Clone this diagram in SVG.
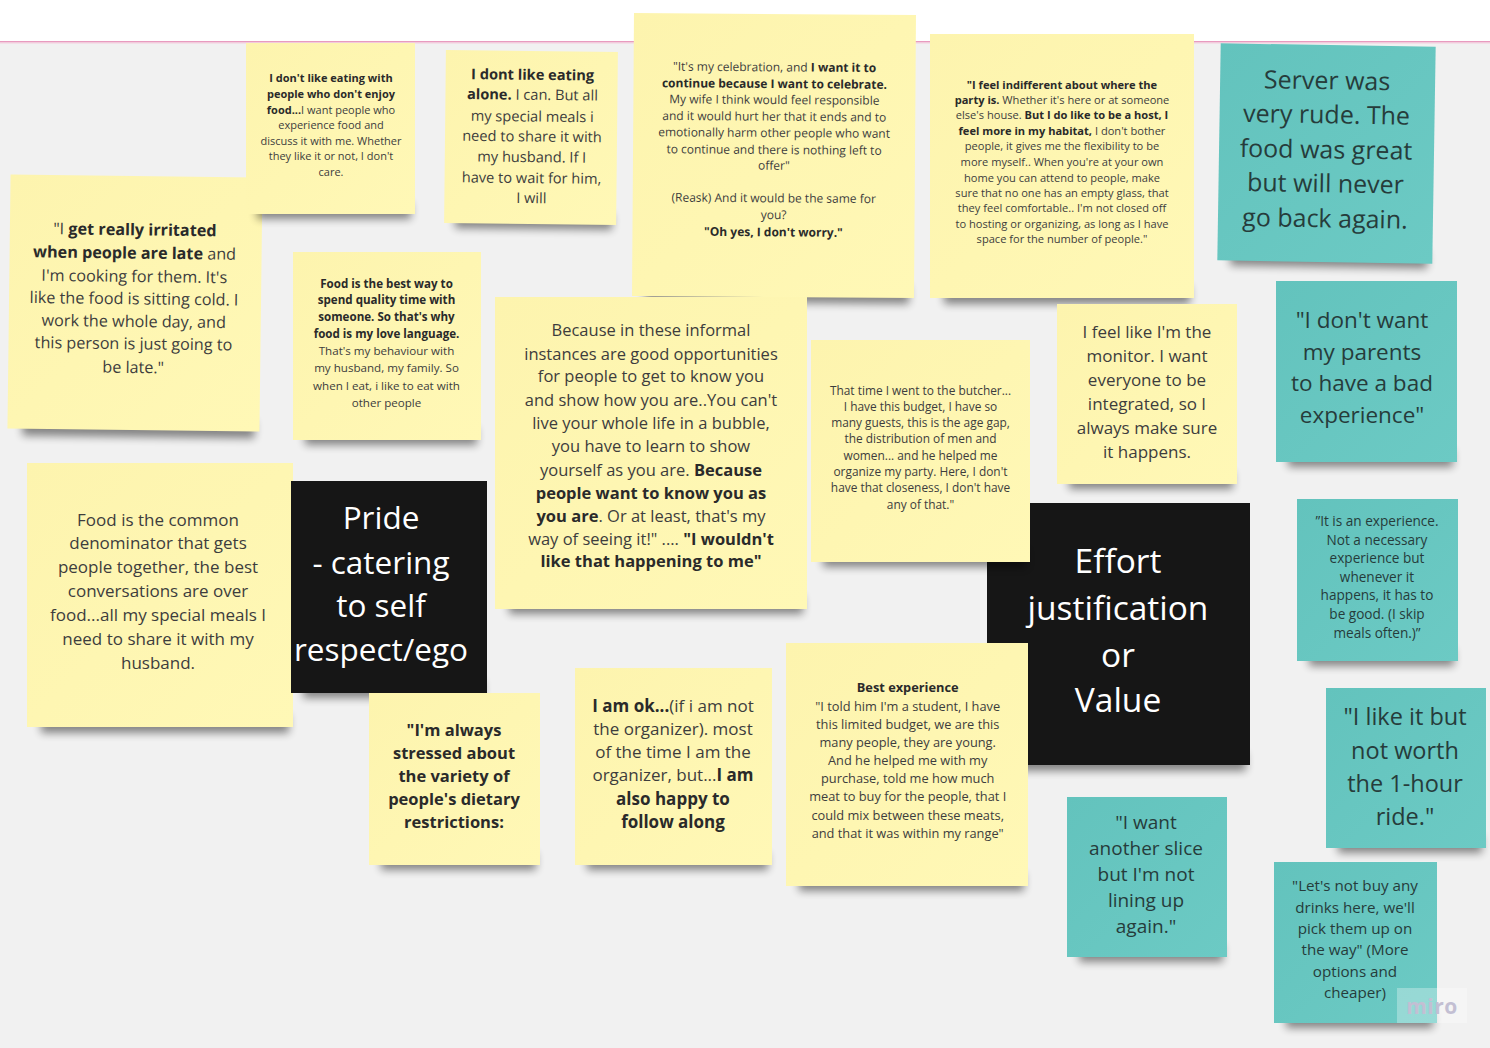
<svg xmlns="http://www.w3.org/2000/svg" width="1490" height="1048" viewBox="0 0 1490 1048">
<defs>
<filter id="blur" x="-20%" y="-100%" width="140%" height="300%"><feGaussianBlur stdDeviation="4"/></filter>
<linearGradient id="yg" x1="0" y1="0" x2="1" y2="1"><stop offset="0" stop-color="#fdf4ae"/><stop offset="1" stop-color="#fff8b6"/></linearGradient>
<linearGradient id="tg" x1="0" y1="0" x2="1" y2="1"><stop offset="0" stop-color="#63c3bd"/><stop offset="1" stop-color="#6ccac4"/></linearGradient>
</defs>
<style>
.y{fill:url(#yg)}
.tl{fill:url(#tg)}
.k{fill:#161616}
.sh{fill:#000;opacity:.45;filter:url(#blur)}
text{font-family:'Open Sans','Noto Sans',sans-serif;text-anchor:middle;fill:#3d3d3d}
.b{font-weight:bold;fill:#2a2a2a}
.tt{fill:#263c3b}
.w{fill:#ffffff}
</style>
<rect x="0" y="0" width="1490" height="1048" fill="#f1f1f1"/>
<rect x="0" y="0" width="1490" height="41" fill="#ffffff"/>
<rect x="0" y="41" width="1490" height="1.5" fill="#e89bbf"/>
<rect x="0" y="42.5" width="1490" height="1" fill="#f6cfe0"/>
<g id="connectors"/>

<g id="n-a" transform="rotate(0.7 135 303)">
<rect class="sh" x="24" y="419" width="232" height="18"/>
<rect class="y" x="9" y="176" width="252" height="254"/>
<text font-size="16.2"><tspan x="134" y="235.3">"I <tspan class="b">get really irritated</tspan></tspan><tspan x="134" y="258.6"><tspan class="b">when people are late</tspan> and</tspan><tspan x="134" y="282">I'm cooking for them. It's</tspan><tspan x="134" y="304.3">like the food is sitting cold. I</tspan><tspan x="134" y="327">work the whole day, and</tspan><tspan x="134" y="349.3">this person is just going to</tspan><tspan x="134" y="373">be late."</tspan></text>
</g>

<g id="n-b">
<rect class="sh" x="257" y="203" width="154" height="16"/>
<rect class="y" x="246" y="43" width="169" height="171"/>
<text font-size="11"><tspan x="331" y="82.3" class="b">I don't like eating with</tspan><tspan x="331" y="97.9" class="b">people who don't enjoy</tspan><tspan x="331" y="113.9"><tspan class="b">food...</tspan>I want people who</tspan><tspan x="331" y="128.9">experience food and</tspan><tspan x="331" y="144.9">discuss it with me. Whether</tspan><tspan x="331" y="159.9">they like it or not, I don't</tspan><tspan x="331" y="175.6">care.</tspan></text>
</g>

<g id="n-c" transform="rotate(0.6 531 138)">
<rect class="sh" x="456" y="213" width="157" height="16"/>
<rect class="y" x="445" y="51" width="172" height="173"/>
<text font-size="14.6"><tspan x="532" y="79.8" class="b">I dont like eating</tspan><tspan x="532" y="99.8"><tspan class="b">alone.</tspan> I can. But all</tspan><tspan x="532" y="121.5">my special meals i</tspan><tspan x="532" y="141.5">need to share it with</tspan><tspan x="532" y="162.1">my husband. If I</tspan><tspan x="532" y="183.1">have to wait for him,</tspan><tspan x="532" y="203.1">I will</tspan></text>
</g>

<g id="n-d" transform="rotate(0.4 774 155)">
<rect class="sh" x="646" y="285" width="264" height="18"/>
<rect class="y" x="633" y="14" width="282" height="283"/>
<text font-size="12"><tspan x="774" y="71.3">"It's my celebration, and <tspan class="b">I want it to</tspan></tspan><tspan x="774" y="88" class="b">continue because I want to celebrate.</tspan><tspan x="774" y="104">My wife I think would feel responsible</tspan><tspan x="774" y="120.7">and it would hurt her that it ends and to</tspan><tspan x="774" y="137">emotionally harm other people who want</tspan><tspan x="774" y="154">to continue and there is nothing left to</tspan><tspan x="774" y="169.7">offer"</tspan><tspan x="774" y="202.3">(Reask) And it would be the same for</tspan><tspan x="774" y="219">you?</tspan><tspan x="774" y="236.3" class="b">"Oh yes, I don't worry."</tspan></text>
</g>

<g id="n-e">
<rect class="sh" x="944" y="286" width="246" height="18"/>
<rect class="y" x="930" y="34" width="264" height="264"/>
<text font-size="11.1"><tspan x="1062" y="89.4" class="b">"I feel indifferent about where the</tspan><tspan x="1062" y="104.4"><tspan class="b">party is.</tspan> Whether it's here or at someone</tspan><tspan x="1062" y="119.4">else's house. <tspan class="b">But I do like to be a host, I</tspan></tspan><tspan x="1062" y="135.4"><tspan class="b">feel more in my habitat,</tspan> I don't bother</tspan><tspan x="1062" y="150.4">people, it gives me the flexibility to be</tspan><tspan x="1062" y="166">more myself.. When you're at your own</tspan><tspan x="1062" y="181.7">home you can attend to people, make</tspan><tspan x="1062" y="197">sure that no one has an empty glass, that</tspan><tspan x="1062" y="212">they feel comfortable.. I'm not closed off</tspan><tspan x="1062" y="227.7">to hosting or organizing, as long as I have</tspan><tspan x="1062" y="242.7">space for the number of people."</tspan></text>
</g>

<g id="n-f" transform="rotate(0.9 1326 153)">
<rect class="sh" x="1232" y="249" width="197" height="18"/>
<rect class="tl" x="1219" y="45" width="215" height="217"/>
<text font-size="25" class="tt"><tspan x="1326" y="89.3">Server was</tspan><tspan x="1326" y="123.3">very rude. The</tspan><tspan x="1326" y="158.3">food was great</tspan><tspan x="1326" y="192.3">but will never</tspan><tspan x="1326" y="227.3">go back again.</tspan></text>
</g>

<g id="n-k">
<rect class="sh" x="1288" y="450" width="165" height="17"/>
<rect class="tl" x="1276" y="281" width="181" height="181"/>
<text font-size="22.5" class="tt"><tspan x="1362" y="328.4">"I don't want</tspan><tspan x="1362" y="360.4">my parents</tspan><tspan x="1362" y="391.4">to have a bad</tspan><tspan x="1362" y="423.4">experience"</tspan></text>
</g>

<g id="n-j">
<rect class="sh" x="1069" y="472" width="164" height="17"/>
<rect class="y" x="1057" y="304" width="180" height="180"/>
<text font-size="17"><tspan x="1147" y="337.6">I feel like I'm the</tspan><tspan x="1147" y="361.6">monitor. I want</tspan><tspan x="1147" y="385.6">everyone to be</tspan><tspan x="1147" y="409.6">integrated, so I</tspan><tspan x="1147" y="433.6">always make sure</tspan><tspan x="1147" y="457.6">it happens.</tspan></text>
</g>

<g id="n-p">
<rect class="sh" x="1001" y="753" width="245" height="18"/>
<rect class="k" x="987" y="503" width="263" height="262"/>
<text font-size="33.5" class="w"><tspan x="1118" y="573">Effort</tspan><tspan x="1118" y="620">justification</tspan><tspan x="1118" y="667">or</tspan><tspan x="1118" y="712">Value</tspan></text>
</g>

<g id="n-i">
<rect class="sh" x="823" y="550" width="203" height="17"/>
<rect class="y" x="811" y="340" width="219" height="222"/>
<text font-size="11.9"><tspan x="920.5" y="394.6">That time I went to the butcher...</tspan><tspan x="920.5" y="410.6">I have this budget, I have so</tspan><tspan x="920.5" y="427.2">many guests, this is the age gap,</tspan><tspan x="920.5" y="443.2">the distribution of men and</tspan><tspan x="920.5" y="459.9">women... and he helped me</tspan><tspan x="920.5" y="475.6">organize my party. Here, I don't</tspan><tspan x="920.5" y="492.2">have that closeness, I don't have</tspan><tspan x="920.5" y="508.9">any of that."</tspan></text>
</g>

<g id="n-q">
<rect class="sh" x="799" y="873" width="225" height="18"/>
<rect class="y" x="786" y="643" width="242" height="243"/>
<text font-size="12.8"><tspan x="907.7" y="691.5" class="b">Best experience</tspan><tspan x="907.7" y="710.5">"I told him I'm a student, I have</tspan><tspan x="907.7" y="728.9">this limited budget, we are this</tspan><tspan x="907.7" y="747.2">many people, they are young.</tspan><tspan x="907.7" y="764.9">And he helped me with my</tspan><tspan x="907.7" y="783.2">purchase, told me how much</tspan><tspan x="907.7" y="801.2">meat to buy for the people, that I</tspan><tspan x="907.7" y="819.5">could mix between these meats,</tspan><tspan x="907.7" y="837.9">and that it was within my range"</tspan></text>
</g>

<g id="n-l">
<rect class="sh" x="41" y="715" width="248" height="18"/>
<rect class="y" x="27" y="463" width="266" height="264"/>
<text font-size="17"><tspan x="158" y="525.6">Food is the common</tspan><tspan x="158" y="548.6">denominator that gets</tspan><tspan x="158" y="572.6">people together, the best</tspan><tspan x="158" y="596.6">conversations are over</tspan><tspan x="158" y="620.6">food...all my special meals I</tspan><tspan x="158" y="644.6">need to share it with my</tspan><tspan x="158" y="668.6">husband.</tspan></text>
</g>

<g id="n-m">
<rect class="sh" x="303" y="681" width="180" height="17"/>
<rect class="k" x="291" y="481" width="196" height="212"/>
<text font-size="31.5" class="w"><tspan x="381" y="529.4">Pride</tspan><tspan x="381" y="574.4">- catering</tspan><tspan x="381" y="617.4">to self</tspan><tspan x="381" y="661.4">respect/ego</tspan></text>
</g>

<g id="n-g">
<rect class="sh" x="305" y="428" width="172" height="17"/>
<rect class="y" x="293" y="252" width="188" height="188"/>
<text font-size="11.6"><tspan x="386.5" y="287.5" class="b">Food is the best way to</tspan><tspan x="386.5" y="304.1" class="b">spend quality time with</tspan><tspan x="386.5" y="320.8" class="b">someone. So that's why</tspan><tspan x="386.5" y="337.5" class="b">food is my love language.</tspan><tspan x="386.5" y="354.8">That's my behaviour with</tspan><tspan x="386.5" y="371.8">my husband, my family. So</tspan><tspan x="386.5" y="389.8">when I eat, i like to eat with</tspan><tspan x="386.5" y="406.8">other people</tspan></text>
</g>

<g id="n-h">
<rect class="sh" x="509" y="596" width="294" height="18"/>
<rect class="y" x="495" y="297" width="312" height="312"/>
<text font-size="16.5"><tspan x="651" y="336.4">Because in these informal</tspan><tspan x="651" y="359.7">instances are good opportunities</tspan><tspan x="651" y="382.4">for people to get to know you</tspan><tspan x="651" y="405.7">and show how you are..You can't</tspan><tspan x="651" y="429.1">live your whole life in a bubble,</tspan><tspan x="651" y="452.4">you have to learn to show</tspan><tspan x="651" y="475.7">yourself as you are. <tspan class="b">Because</tspan></tspan><tspan x="651" y="499.1" class="b">people want to know you as</tspan><tspan x="651" y="522.4"><tspan class="b">you are</tspan>. Or at least, that's my</tspan><tspan x="651" y="545.1">way of seeing it!" .... <tspan class="b">"I wouldn't</tspan></tspan><tspan x="651" y="567.4" class="b">like that happening to me"</tspan></text>
</g>

<g id="n-n">
<rect class="sh" x="381" y="853" width="155" height="17"/>
<rect class="y" x="369" y="693" width="171" height="172"/>
<text font-size="16.5" class="b"><tspan x="454" y="736.4">"I'm always</tspan><tspan x="454" y="759.4">stressed about</tspan><tspan x="454" y="782.4">the variety of</tspan><tspan x="454" y="805.4">people's dietary</tspan><tspan x="454" y="828.4">restrictions:</tspan></text>
</g>

<g id="n-o">
<rect class="sh" x="587" y="853" width="181" height="17"/>
<rect class="y" x="575" y="668" width="197" height="197"/>
<text font-size="17"><tspan x="673" y="711.6"><tspan class="b">I am ok...</tspan>(if i am not</tspan><tspan x="673" y="734.6">the organizer). most</tspan><tspan x="673" y="757.6">of the time I am the</tspan><tspan x="673" y="780.6">organizer, but...<tspan class="b">I am</tspan></tspan><tspan x="673" y="804.6" class="b">also happy to</tspan><tspan x="673" y="827.6" class="b">follow along</tspan></text>
</g>

<g id="n-r">
<rect class="sh" x="1309" y="649" width="145" height="17"/>
<rect class="tl" x="1297" y="499" width="161" height="162"/>
<text font-size="13.6" class="tt"><tspan x="1377" y="525.8">”It is an experience.</tspan><tspan x="1377" y="544.8">Not a necessary</tspan><tspan x="1377" y="562.5">experience but</tspan><tspan x="1377" y="581.5">whenever it</tspan><tspan x="1377" y="600.2">happens, it has to</tspan><tspan x="1377" y="619.2">be good. (I skip</tspan><tspan x="1377" y="637.5">meals often.)”</tspan></text>
</g>

<g id="n-s">
<rect class="sh" x="1338" y="836" width="144" height="17"/>
<rect class="tl" x="1326" y="688" width="160" height="160"/>
<text font-size="23.5" class="tt"><tspan x="1405" y="724.8">"I like it but</tspan><tspan x="1405" y="758.8">not worth</tspan><tspan x="1405" y="791.8">the 1-hour</tspan><tspan x="1405" y="824.8">ride."</tspan></text>
</g>

<g id="n-t">
<rect class="sh" x="1079" y="945" width="144" height="17"/>
<rect class="tl" x="1067" y="797" width="160" height="160"/>
<text font-size="19" class="tt"><tspan x="1146" y="829.3">"I want</tspan><tspan x="1146" y="855.3">another slice</tspan><tspan x="1146" y="881.3">but I'm not</tspan><tspan x="1146" y="907.3">lining up</tspan><tspan x="1146" y="933.3">again."</tspan></text>
</g>

<g id="n-u">
<rect class="sh" x="1286" y="1011" width="147" height="17"/>
<rect class="tl" x="1274" y="862" width="163" height="161"/>
<text font-size="15.2" class="tt"><tspan x="1355" y="891">"Let's not buy any</tspan><tspan x="1355" y="912.7">drinks here, we'll</tspan><tspan x="1355" y="934.3">pick them up on</tspan><tspan x="1355" y="955">the way" (More</tspan><tspan x="1355" y="976.7">options and</tspan><tspan x="1355" y="997.7">cheaper)</tspan></text>
</g>

<g id="miro-mark">
<rect x="1397" y="988" width="70" height="35" fill="#ffffff" opacity="0.3"/>
<text x="1432" y="1014" font-size="21" font-weight="bold" style="fill:#c3bfd3;letter-spacing:0.5px">miro</text>
</g>
</svg>
